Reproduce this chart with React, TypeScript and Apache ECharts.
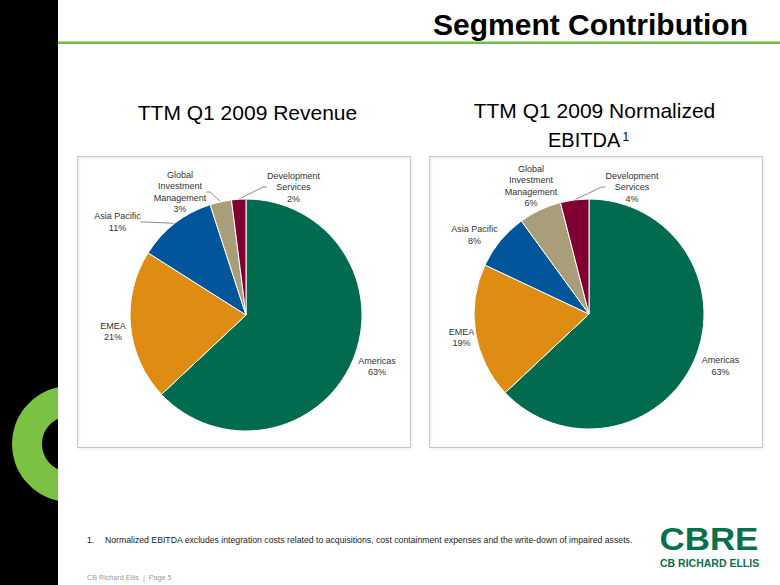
import React, { useEffect, useRef } from 'react';
import * as echarts from 'echarts';

// ---- data ----
const categories = ['Americas', 'EMEA', 'Asia Pacific', 'Global Investment Management', 'Development Services'];
const labelText = ['Americas', 'EMEA', 'Asia Pacific', 'Global\nInvestment\nManagement', 'Development\nServices'];
const revenueShare = [63, 21, 11, 3, 2];
const ebitdaShare = [63, 19, 8, 6, 4];
const sliceColors = ['#006B4F', '#DE8C12', '#00559B', '#A99D7A', '#800033'];
const revenueLeaderLines = [false, false, true, true, true];
const ebitdaLeaderLines = [false, false, false, false, true];

// ---- layout (label centres) ----
const revenueLabelPos = [[377, 366.5], [113, 331.5], [117.5, 222], [180, 192], [293.5, 187]];
const ebitdaLabelPos = [[720.5, 366], [461.5, 337.5], [474.5, 235], [531, 186], [632, 187]];

const FONT = '"Liberation Sans", Arial, Helvetica, sans-serif';

const crescentPath = 'M 58 387.25 A 58 58 0 0 0 58 500.75 L 58 469.3 A 28 28 0 0 1 58 418.7 Z';
let registered = false;
function ensureShapes() {
  if (registered) return;
  registered = true;
  echarts.graphic.registerShape('crescent', echarts.graphic.extendPath(crescentPath, {}) as any);
}

function makeData(values: number[], leaders: boolean[]) {
  return values.map((v, i) => ({
    name: categories[i],
    value: v,
    itemStyle: { color: sliceColors[i] },
    labelLine: { show: leaders[i] },
  }));
}

function pieSeries(values: number[], leaders: boolean[], center: number[], radius: number, pos: number[][]) {
  return {
    type: 'pie',
    center,
    radius,
    startAngle: 90,
    clockwise: true,
    avoidLabelOverlap: false,
    itemStyle: { borderColor: '#ffffff', borderWidth: 1 },
    label: {
      show: true,
      position: 'outside',
      color: '#333333',
      fontFamily: FONT,
      fontSize: 9,
      lineHeight: 11.5,
      align: 'center',
      formatter: (p: any) => `${labelText[p.dataIndex]}\n${p.value}%`,
    },
    labelLine: { show: true, length: 6, length2: 4, lineStyle: { color: '#8c8c8c', width: 1 } },
    labelLayout: (p: any) => ({
      x: pos[p.dataIndex][0],
      y: pos[p.dataIndex][1],
      align: 'center',
      verticalAlign: 'middle',
    }),
    emphasis: { disabled: true },
    data: makeData(values, leaders),
  };
}

function txt(text: string, x: number, y: number, font: string, fill: string, align: string, extra: any = {}) {
  return {
    type: 'text',
    silent: true,
    z: 10,
    style: {
      text,
      x,
      y,
      font,
      fill,
      align,
      textAlign: align,
      verticalAlign: 'middle',
      textVerticalAlign: 'middle',
      ...extra,
    },
  };
}

export default function App() {
  const ref = useRef<HTMLDivElement>(null);
  useEffect(() => {
    if (!ref.current) return;
    ensureShapes();
    const chart = echarts.init(ref.current, undefined, { renderer: 'svg', width: 780, height: 585 });
    chart.setOption({
      animation: false,
      backgroundColor: '#ffffff',
      graphic: [
        { type: 'rect', silent: true, z: 1, shape: { x: 0, y: 0, width: 58, height: 585 }, style: { fill: '#000000' } },
        { type: 'crescent', silent: true, z: 2, x: 0, y: 0, style: { fill: '#7BC143' } },
        { type: 'rect', silent: true, z: 1, shape: { x: 58, y: 41.5, width: 722, height: 2.6 }, style: { fill: '#6CC04A' } },
        txt('Segment Contribution', 748, 24.5, `bold 30px ${FONT}`, '#000000', 'right'),
        { type: 'rect', silent: true, z: 1, shape: { x: 77.5, y: 156.5, width: 333, height: 291 }, style: { fill: 'none', stroke: '#c6c6c6', lineWidth: 1, shadowColor: 'rgba(0,0,0,0.12)', shadowBlur: 2, shadowOffsetX: 1, shadowOffsetY: 1 } },
        { type: 'rect', silent: true, z: 1, shape: { x: 429.5, y: 156.5, width: 333, height: 291 }, style: { fill: 'none', stroke: '#c6c6c6', lineWidth: 1, shadowColor: 'rgba(0,0,0,0.12)', shadowBlur: 2, shadowOffsetX: 1, shadowOffsetY: 1 } },
        txt('TTM Q1 2009 Revenue', 247.5, 112.6, `21px ${FONT}`, '#000000', 'center'),
        txt('TTM Q1 2009 Normalized', 594.5, 110.6, `21px ${FONT}`, '#000000', 'center'),
        txt('EBITDA', 548, 139.6, `20px ${FONT}`, '#000000', 'left', { lineHeight: 20 }),
        txt('1', 622.5, 136.5, `12px ${FONT}`, '#000000', 'left', { lineHeight: 10 }),
        txt('1.', 87, 540, `8.7px ${FONT}`, '#222222', 'left'),
        txt('Normalized EBITDA excludes integration costs related to acquisitions, cost containment expenses and the write-down of impaired assets.', 105, 540, `8.7px ${FONT}`, '#222222', 'left'),
        txt('CB Richard Ellis  |  Page 5', 87, 577, `7.2px ${FONT}`, '#9a9a9a', 'left'),
        {
          type: 'text', silent: true, z: 10, x: 659.5, y: 539.3, scaleX: 1.09,
          style: { text: 'CBRE', x: 0, y: 0, font: `bold 32px ${FONT}`, fill: '#0A704A', align: 'left', textAlign: 'left', verticalAlign: 'middle', textVerticalAlign: 'middle' },
        },
        {
          type: 'text', silent: true, z: 10, x: 660, y: 563.5, scaleX: 1.05,
          style: { text: 'CB RICHARD ELLIS', x: 0, y: 0, font: `bold 10px ${FONT}`, fill: '#0A704A', align: 'left', textAlign: 'left', verticalAlign: 'middle', textVerticalAlign: 'middle' },
        },
      ],
      series: [
        pieSeries(revenueShare, revenueLeaderLines, [246, 315], 116, revenueLabelPos),
        pieSeries(ebitdaShare, ebitdaLeaderLines, [589, 314], 115, ebitdaLabelPos),
      ],
    });
    return () => chart.dispose();
  }, []);
  return <div ref={ref} style={{ position: 'absolute', left: 0, top: 0, width: 780, height: 585 }} />;
}
